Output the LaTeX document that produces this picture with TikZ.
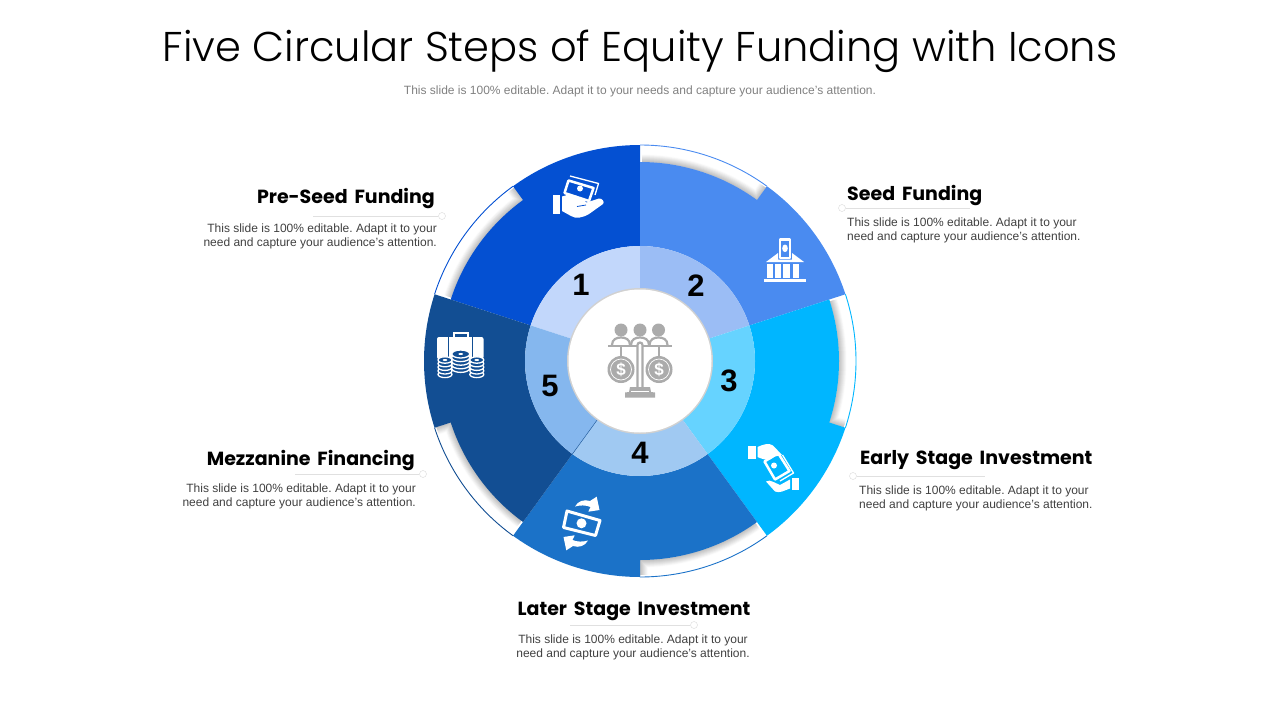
\documentclass[tikz,border=0pt]{standalone}
\usepackage{fontspec}
\setmainfont{Liberation Sans}
\newfontfamily\headfont[WordSpace=1.7]{Poppins}
\newfontfamily\titlefont{Poppins Light}
\definecolor{seca}{HTML}{0450D2}
\definecolor{secb}{HTML}{4A8BF0}
\definecolor{secc}{HTML}{00B6FF}
\definecolor{secd}{HTML}{1B72C8}
\definecolor{sece}{HTML}{124E93}
\definecolor{inna}{HTML}{C2D7FB}
\definecolor{innb}{HTML}{9BBDF5}
\definecolor{innc}{HTML}{66D3FF}
\definecolor{innd}{HTML}{A0C9F2}
\definecolor{inne}{HTML}{85B7EE}
\definecolor{bodygray}{HTML}{404040}
\definecolor{icongray}{HTML}{ABABAB}
\begin{document}
\frenchspacing
\begin{tikzpicture}[
        x = 1pt, y = -1pt,
        title/.style = {font = \titlefont\fontsize{41.6}{42}\selectfont, text = black},
        sub/.style = {font = \fontsize{12}{12}\selectfont, text = black!50},
        head/.style = {font = \headfont\fontsize{19}{19}\selectfont\bfseries, text = black, inner sep = 0pt},
        body/.style = {font = \fontsize{12}{14}\selectfont, text = bodygray, inner sep = 0pt},
        num/.style = {font = \fontsize{31}{31}\selectfont\bfseries, text = black},
        pin/.style = {draw = black!15, circle, fill = white, inner sep = 0pt, minimum size = 7pt},
        lead/.style = {draw = black!12, line width = 0.6pt},
        ico/.style = {fill = white, draw = none},
        frame/.style = {draw = white, line width = 2.5pt, line join = round},
        thinframe/.style = {draw = white, line width = 1.3pt, line join = round},
        grayline/.style = {draw = icongray, line width = 2.2pt},
    ]
    \useasboundingbox (0,0) rectangle (1280,720);

    % ring
    \begin{scope}[shift = {(640,361)}, yscale = -1]
        \foreach \s/\outer/\inner in {90/seca/inna, 18/secb/innb, -54/secc/innc, 234/secd/innd, 162/sece/inne}{
            \pgfmathsetmacro{\m}{\s + 36}
            \pgfmathsetmacro{\e}{\s + 72}
            \foreach \k in {8,...,1}{
                \pgfmathsetmacro{\shade}{27 - 3.3*\k}
                \pgfmathsetmacro{\n}{\m + 0.28*\k}
                \fill[black!\shade] (\m:199) -- (\m:199 + \k) arc (\m:\e - 0.6:199 + \k) -- (\e - 0.6:199) arc (\e - 0.6:\m:199) -- cycle;
                \fill[black!\shade] (\m:199) -- (\m:214) arc (\m:\n:214) -- (\n:199) arc (\n:\m:199) -- cycle;
            }
            \fill[\outer] (\s:115) -- (\s:216) arc (\s:\m:216) -- (\m:199) arc (\m:\e:199) -- (\e:115) arc (\e:\s:115) -- cycle;
            \draw[\outer, line width = 0.9pt] (\m:216) arc (\m:\e:216);
            \fill[\inner] (\s:72) -- (\s:115) arc (\s:\e:115) -- (\e:72) arc (\e:\s:72) -- cycle;
        }
        \draw[sece, line width = 0.4pt] (234:72) -- (234:115);
        \fill[black!18] (0,0) circle (73);
        \fill[white] (0,0) circle (71.5);
    \end{scope}

    % numbers
    \node (one) [num] at (581,285) {1};
    \node (two) [num] at (696,286) {2};
    \node (three) [num] at (729,381) {3};
    \node (four) [num] at (640,453) {4};
    \node (five) [num] at (550,386) {5};

    % texts
    \node (heading) [title] at (640,51) {Five Circular Steps of Equity Funding with Icons};
    \node (subhead) [sub] at (640,91) {This slide is 100\% editable. Adapt it to your needs and capture your audience's attention.};

    \node (pre) [head, anchor = east] at (435,199) {Pre-Seed Funding};
    \node (pretxt) [body, align = right, anchor = north east] at (437,224) {This slide is 100\% editable. Adapt it to your\\need and capture your audience's attention.};
    \node (seed) [head, anchor = west] at (847,196) {Seed Funding};
    \node (seedtxt) [body, align = left, anchor = north west] at (847,218) {This slide is 100\% editable. Adapt it to your\\need and capture your audience's attention.};
    \node (early) [head, anchor = west] at (860,460) {Early Stage Investment};
    \node (earlytxt) [body, align = left, anchor = north west] at (859,486) {This slide is 100\% editable. Adapt it to your\\need and capture your audience's attention.};
    \node (mezz) [head, anchor = east] at (415,460) {Mezzanine Financing};
    \node (mezztxt) [body, align = right, anchor = north east] at (416,484) {This slide is 100\% editable. Adapt it to your\\need and capture your audience's attention.};
    \node (later) [head] at (634,611) {Later Stage Investment};
    \node (latertxt) [body, align = center, anchor = north] at (633,635) {This slide is 100\% editable. Adapt it to your\\need and capture your audience's attention.};

    % leaders
    \node (pina) [pin] at (442,216) {};
    \node (pinb) [pin] at (842,208) {};
    \node (pinc) [pin] at (853,476) {};
    \node (pind) [pin] at (694,625) {};
    \node (pine) [pin] at (423,474) {};
    \coordinate (enda) at (313,216);
    \coordinate (endb) at (970,208);
    \coordinate (endc) at (985,476);
    \coordinate (endd) at (570,625);
    \coordinate (ende) at (295,474);
    \path[lead] (enda) -- (pina);
    \path[lead] (endb) -- (pinb);
    \path[lead] (endc) -- (pinc);
    \path[lead] (endd) -- (pind);
    \path[lead] (ende) -- (pine);

    % icon 1, hand with money
    \draw[thinframe] (570,176) -- (598.5,183.5) -- (595,195);
    \draw[frame, fill = seca] (568.5,180.5) -- (593.5,188) -- (589,201) -- (564.5,193) -- cycle;
    \fill[ico] (580,188.5) circle (3);
    \fill[ico] (553,195) rectangle (560,213.5);
    \fill[ico] (562,196.5) .. controls (568,194) and (575,194) .. (581,198) -- (586.5,202.5) -- (599,198.5) .. controls (602,198) and (605,202) .. (603,204) -- (589,214) .. controls (582,218) and (576,219) .. (571,216) -- (562,211) -- cycle;
    \draw[seca, line width = 0.8pt] (577,206.5) -- (586,205);

    % icon 2, bank
    \draw[frame, fill = secb] (780,239.5) rectangle (790,258);
    \fill[ico] (785,248.3) ellipse [x radius = 2.8, y radius = 3.8];
    \fill[ico] (766,262) -- (778,253) -- (778,259.5) -- (792,259.5) -- (792,253) -- (804,262) -- cycle;
    \foreach \c in {766.5,775,783.3,792.5}{
        \fill[ico] (\c,263.5) rectangle (\c + 6.3,278);
    }
    \fill[ico] (764,279) rectangle (805.7,282.3);

    % icon 3, hands with money
    \draw[thinframe] (782.5,455) -- (793.5,473) -- (780,481);
    \draw[frame, fill = secc] (764.5,461.5) -- (778,453) -- (789.5,471) -- (775,479.5) -- cycle;
    \fill[ico] (774,465.5) circle (3);
    \fill[ico] (748.3,446) rectangle (755.5,458.8);
    \fill[ico] (757.5,447) .. controls (763,444.5) and (769,442.5) .. (773,445.5) -- (782,455) -- (775,456.5) -- (770,459.5) .. controls (766,460.5) and (761,458.5) .. (757.5,457) -- cycle;
    \fill[ico] (791.7,477.5) rectangle (799,490);
    \fill[ico] (766,481.5) .. controls (768,480) and (771,480.5) .. (773.5,482) -- (780,485) -- (790,479.5) -- (790,488.5) .. controls (784,490.5) and (780,493.5) .. (775,491.5) -- cycle;

    % icon 4, money with arrows
    \draw[frame, fill = secd, line width = 3pt] (567,511) -- (600,520.5) -- (595.5,535.5) -- (563.5,527.5) -- cycle;
    \fill[ico] (581.5,523.3) circle (5);
    \foreach \t in {0,180}{
        \begin{scope}[rotate around = {\t:(581.5,523.5)}]
            \fill[ico] (575,506.5) .. controls (578,501) and (584,499) .. (590,501) -- (596.7,496.7) -- (599.5,510) -- (588.3,511.7) -- (590.5,507) .. controls (586,505) and (580,505) .. (575,506.5) -- cycle;
        \end{scope}
    }

    % icon 5, case with coins
    \draw[draw = white, line width = 2.6pt] (454,338) -- (454,333) -- (468,333) -- (468,338);
    \fill[ico, rounded corners = 2pt] (437,337) rectangle (483.5,359);
    \draw[sece, line width = 1pt] (448.5,337) -- (448.5,359);
    \draw[sece, line width = 1pt] (472,337) -- (472,359);
    \foreach \cx/\rx/\ry/\top in {445/7/3.2/360, 476.8/7/3.2/360, 460.7/9/4/354}{
        \foreach \d in {4,3,2,1,0}{
            \filldraw[fill = sece, thinframe] (\cx,\top + 3.6*\d) ellipse [x radius = \rx, y radius = \ry];
        }
        \fill[ico] (\cx,\top) ellipse [x radius = 2.4, y radius = 1];
    }

    % centre icon, scales with people
    \foreach \c in {621,640,658.5}{
        \fill[icongray] (\c,330) circle (6.5);
        \filldraw[fill = white, grayline] (\c - 9,345) .. controls (\c - 9,339) and (\c - 4,337.5) .. (\c,337.5) .. controls (\c + 4,337.5) and (\c + 9,339) .. (\c + 9,345);
    }
    \draw[grayline] (608,345.7) -- (672,345.7);
    \filldraw[fill = white, grayline] (637.5,389) -- (637.5,345) arc (180:360:2.5) -- (642.5,389);
    \draw[grayline] (621,346) -- (621,357);
    \draw[grayline] (659,346) -- (659,357);
    \fill[icongray] (630,387) -- (650,387) -- (651,392) -- (655,392.5) -- (655,397.5) -- (625,397.5) -- (625,392.5) -- (629,392) -- cycle;
    \draw[white, line width = 0.7pt] (631,391) -- (649,391);
    \foreach \c/\name in {621/coina, 659/coinb}{
        \fill[icongray] (\c,369.5) circle (13.5);
        \draw[white, line width = 0.7pt] (\c,369.5) circle (10.5);
        \node (\name) [text = white, inner sep = 0pt, font = \fontsize{17}{17}\selectfont\bfseries] at (\c,369.5) {\$};
    }
\end{tikzpicture}
\end{document}
